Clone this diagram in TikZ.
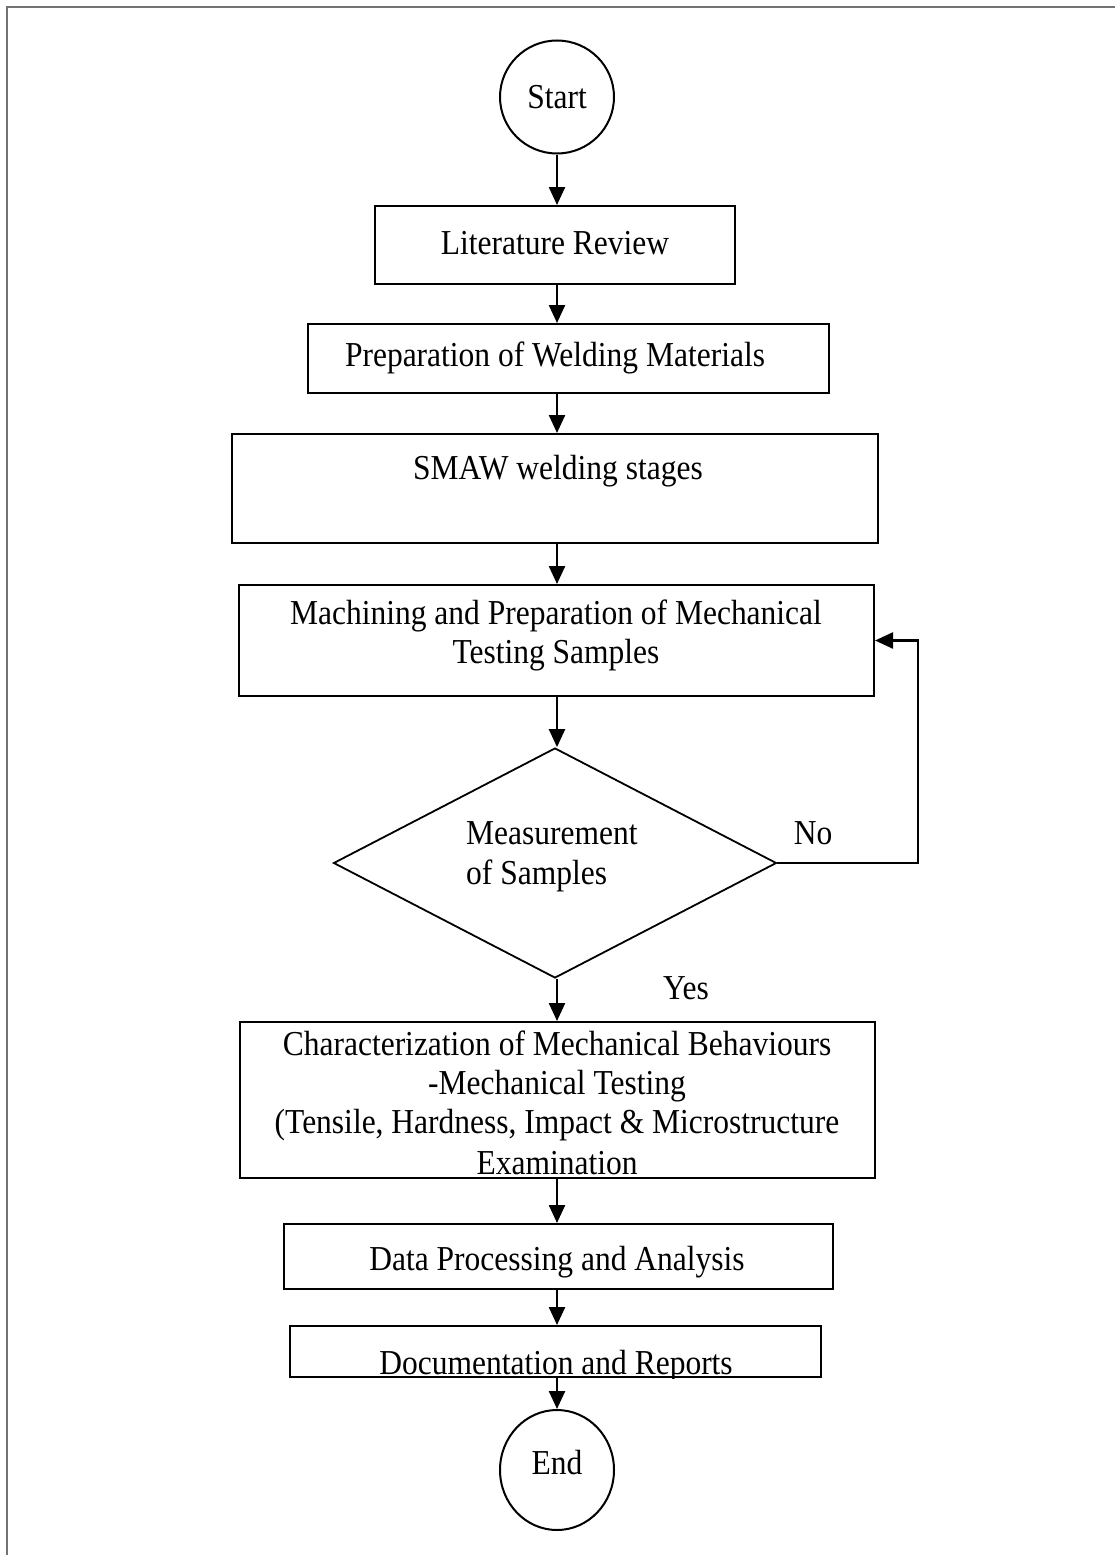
\documentclass[tikz,border=0pt]{standalone}
\usepackage{fontspec}
\setmainfont[FakeStretch=0.9]{Liberation Serif}
\usetikzlibrary{arrows.meta,shapes.geometric}
\begin{document}
\begin{tikzpicture}[x=1pt,y=-1pt,
  boxst/.style={draw, line width=2pt, inner sep=0pt, rectangle},
  ovalst/.style={draw, line width=2pt, inner sep=0pt, ellipse},
  txt/.style={anchor=base, inner sep=0pt, font=\fontsize{35}{39}\selectfont},
  arr/.style={line width=2.4pt, -{Triangle[length=18pt,width=16pt]}},
  flow/.style={line width=2.4pt}]
\useasboundingbox (0,0) rectangle (1115,1555);
\draw[black!55, line width=2.2pt] (7,1555) -- (7,7) -- (1115,7);

% shapes
\node[ovalst, minimum width=114pt, minimum height=113pt] (start) at (557,97) {};
\node[boxst, minimum width=360pt, minimum height=78pt] (lit) at (555,245) {};
\node[boxst, minimum width=521pt, minimum height=69pt] (prep) at (568.5,358.5) {};
\node[boxst, minimum width=646pt, minimum height=109pt] (smaw) at (555,488.5) {};
\node[boxst, minimum width=635pt, minimum height=111pt] (mach) at (556.5,640.5) {};
\node[draw, line width=1.8pt, diamond, inner sep=0pt, minimum width=443pt, minimum height=230pt] (meas) at (555,863) {};
\node[boxst, minimum width=635pt, minimum height=156pt] (char) at (557.5,1100) {};
\node[boxst, minimum width=549pt, minimum height=65pt] (data) at (558.5,1256.5) {};
\node[boxst, minimum width=531pt, minimum height=51pt] (doc) at (555.5,1351.5) {};
\node[ovalst, minimum width=114pt, minimum height=120pt] (end) at (557,1470) {};

% texts
\node[txt] (tstart) at (557,108) {Start};
\node[txt] (tlit) at (555,254) {Literature Review};
\node[txt] (tprep) at (555,366) {Preparation of Welding Materials};
\node[txt] (tsmaw) at (558,479) {SMAW welding stages};
\node[txt] (tmach1) at (556,624) {Machining and Preparation of Mechanical};
\node[txt] (tmach2) at (556,663) {Testing Samples};
\node[txt, anchor=base west] (tmeas1) at (466,844) {Measurement};
\node[txt, anchor=base west] (tmeas2) at (466,884) {of Samples};
\node[txt] (tno) at (813,844) {No};
\node[txt] (tyes) at (686,999) {Yes};
\begin{scope}
  \clip (char.south west) rectangle (char.north east);
  \node[txt] (tchar1) at (557,1055) {Characterization of Mechanical Behaviours};
  \node[txt] (tchar2) at (557,1094) {-Mechanical Testing};
  \node[txt] (tchar3) at (557,1133) {(Tensile, Hardness, Impact \& Microstructure};
  \node[txt] (tchar4) at (557,1174) {Examination};
\end{scope}
\node[txt] (tdata) at (557,1270) {Data Processing and Analysis};
\begin{scope}
  \clip (doc.south west) rectangle (doc.north east);
  \node[txt] (tdoc) at (556,1374) {Documentation and Reports};
\end{scope}
\node[txt] (tend) at (557,1474) {End};

% connectors
\draw[arr] (start.south) -- (start.south |- lit.north);
\draw[arr] (557,0 |- lit.south) -- (557,0 |- prep.north);
\draw[arr] (557,0 |- prep.south) -- (557,0 |- smaw.north);
\draw[arr] (557,0 |- smaw.south) -- (557,0 |- mach.north);
\draw[arr] (557,0 |- mach.south) -- (557,0 |- meas.north);
\draw[arr] (557,0 |- meas.south) -- (557,0 |- char.north);
\draw[arr] (557,0 |- char.south) -- (557,0 |- data.north);
\draw[arr] (557,0 |- data.south) -- (557,0 |- doc.north);
\draw[arr] (557,0 |- doc.south) -- (end.north);
\coordinate (loopc) at (918,863);
\draw[flow, -{Triangle[length=18pt,width=16pt]}] (meas.east) -- (loopc) |- (mach.east);
\end{tikzpicture}
\end{document}
